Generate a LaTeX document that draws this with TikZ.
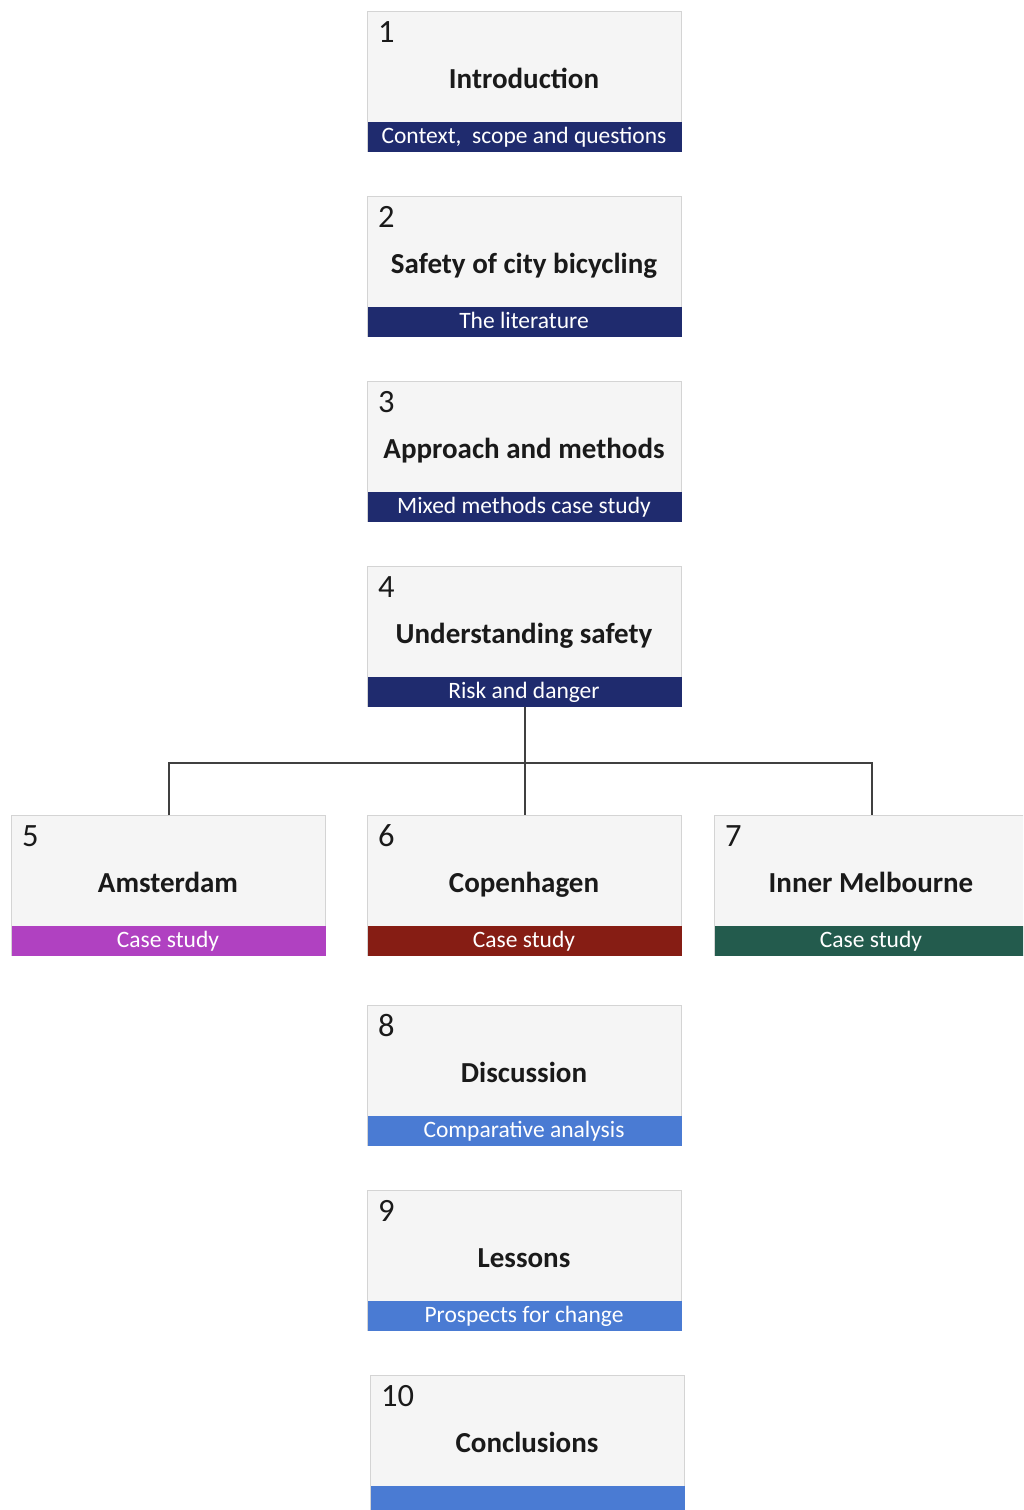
\documentclass[tikz,border=0pt]{standalone}
\usepackage{fontspec}
\setmainfont{Carlito}
\usetikzlibrary{calc}

\definecolor{boxfill}{HTML}{F5F5F5}
\definecolor{boxline}{HTML}{D4D4D4}
\definecolor{textdark}{HTML}{1A1A1A}
\definecolor{connline}{HTML}{404040}
\definecolor{navyband}{HTML}{1F2B6E}
\definecolor{purpleband}{HTML}{B041C1}
\definecolor{redband}{HTML}{861D14}
\definecolor{greenband}{HTML}{235B4D}
\definecolor{blueband}{HTML}{4A7BD3}

\tikzset{
  body/.style={draw=boxline, fill=boxfill, line width=1.2pt,
    minimum width=314pt, minimum height=140pt, anchor=north west, inner sep=0pt},
  band/.style={fill=#1, minimum width=314pt, minimum height=30pt,
    anchor=south, inner sep=0pt},
  bandtext/.style={anchor=base, inner sep=0pt, text=white,
    font=\fontsize{23.5}{23.5}\selectfont},
  num/.style={anchor=base west, inner sep=0pt, text=textdark,
    font=\fontsize{32.5}{32.5}\selectfont},
  ttl/.style={anchor=base, inner sep=0pt, text=textdark,
    font=\bfseries\fontsize{29}{29}\selectfont},
  conn/.style={draw=connline, line width=2pt}
}

% #1 name, #2 left, #3 top, #4 number, #5 title, #6 band text, #7 band colour
\newcommand\chapbox[7]{%
  \node[body] (#1) at (#2,#3) {};
  \node[band=#7] (#1-band) at (#1.south) {};
  \node[num] (#1-num) at (#2+11,#3+31) {#4};
  \node[ttl] (#1-title) at (#2+157,#3+77) {#5};
  \node[bandtext] (#1-sub) at (#2+157,#3+132) {#6};
}

\begin{document}
\begin{tikzpicture}[x=1pt,y=-1pt]
  \useasboundingbox (0,0) rectangle (1023,1510);
  \clip (0,0) rectangle (1023,1510);
  \fill[white] (0,0) rectangle (1023,1510);

  \chapbox{b1}{367}{11}{1}{Introduction}{Context,\ \ scope and questions}{navyband}
  \chapbox{b2}{367}{196}{2}{Safety of city bicycling}{The literature}{navyband}
  \chapbox{b3}{367}{381}{3}{Approach and methods}{Mixed methods case study}{navyband}
  \chapbox{b4}{367}{566}{4}{Understanding safety}{Risk and danger}{navyband}

  \chapbox{b5}{11}{815}{5}{Amsterdam}{Case study}{purpleband}
  \chapbox{b6}{367}{815}{6}{Copenhagen}{Case study}{redband}
  \chapbox{b7}{714}{815}{7}{Inner Melbourne}{Case study}{greenband}

  \chapbox{b8}{367}{1005}{8}{Discussion}{Comparative analysis}{blueband}
  \chapbox{b9}{367}{1190}{9}{Lessons}{Prospects for change}{blueband}
  \chapbox{b10}{370}{1375}{10}{Conclusions}{}{blueband}

  % branching connector from chapter 4 to the three case studies
  \coordinate (split) at ($(b4.south)+(0,56)$);
  \draw[conn] (b4.south) -- (b6.north);
  \draw[conn] (b5.north) -- (b5.north |- split) -- (b7.north |- split) -- (b7.north);
\end{tikzpicture}
\end{document}
